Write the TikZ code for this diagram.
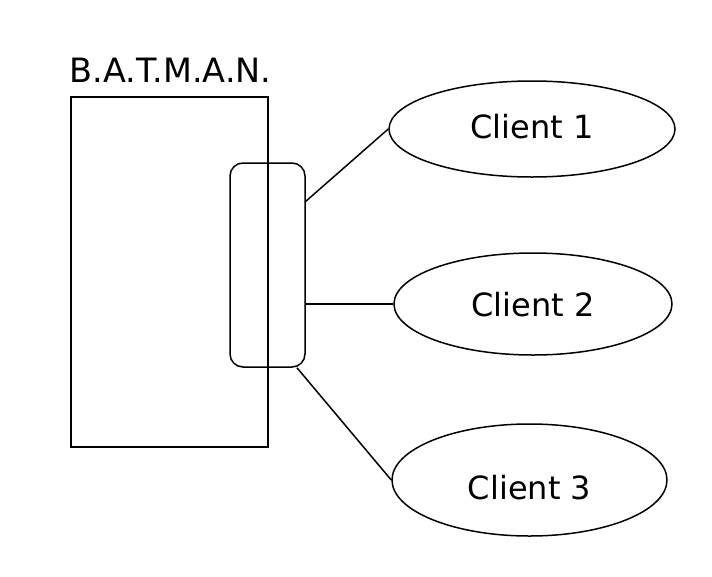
\documentclass[tikz,border=0pt]{standalone}
\usepackage{fontspec}
\setmainfont{DejaVu Sans}
\usetikzlibrary{shapes.geometric}

\begin{document}
\begin{tikzpicture}[x=1pt, y=-1pt, line width=1.5pt,
    box/.style={draw, rectangle, inner sep=0pt},
    iface/.style={draw, rectangle, rounded corners=13pt, inner sep=0pt, minimum width=75pt, minimum height=204pt},
    client/.style={draw, ellipse, inner sep=0pt, text depth=0pt, font=\fontsize{32}{38}\selectfont}]
    \useasboundingbox (0, 0) rectangle (712, 576);

    % B.A.T.M.A.N. box
    \node[box, minimum width=197pt, minimum height=350pt] (batman) at (169.5, 272) {};
    \node[anchor=base, inner sep=0pt, font=\fontsize{33.5}{40}\selectfont] (batmanlabel) at (170.5, 82) {B.A.T.M.A.N.};

    % Interface
    \node[iface] (bat0) at (267.5, 265) {};

    % Clients
    \node[client, text height=18.4pt, minimum width=286pt, minimum height=96pt] (client1) at (532, 129) {Client 1};
    \node[client, text height=25.4pt, minimum width=278pt, minimum height=102pt] (client2) at (533, 304) {Client 2};
    \node[client, text height=39.4pt, minimum width=275pt, minimum height=112pt] (client3) at (529.5, 480) {Client 3};

    % Links
    \draw (bat0.59.6) -- (client1.west);
    \draw (bat0.east) ++(0, 39) -- (client2.west);
    \draw (bat0.-74.4) -- (client3.west);
\end{tikzpicture}
\end{document}
